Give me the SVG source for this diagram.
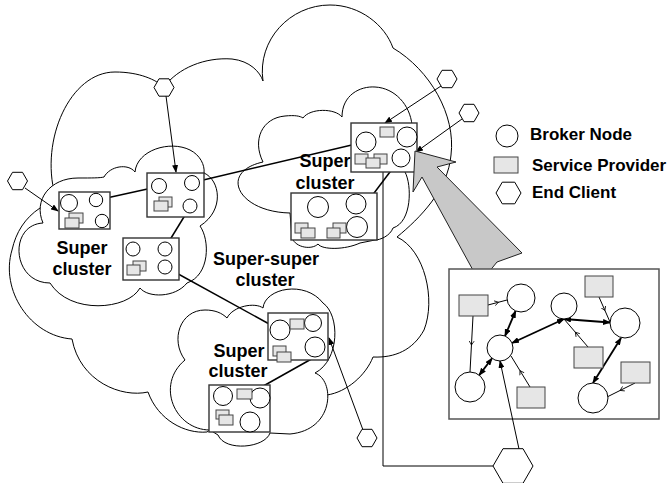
<svg xmlns="http://www.w3.org/2000/svg" width="669" height="483" viewBox="0 0 669 483">
  <defs>
    <marker id="tip" markerWidth="8" markerHeight="6" refX="7" refY="3" orient="auto" markerUnits="userSpaceOnUse">
      <path d="M0,0 L8,3 L0,6 Z" fill="#000"/>
    </marker>
    <marker id="tipStart" markerWidth="8" markerHeight="6" refX="1" refY="3" orient="auto" markerUnits="userSpaceOnUse">
      <path d="M8,0 L0,3 L8,6 Z" fill="#000"/>
    </marker>
    <marker id="midTick" markerWidth="6" markerHeight="6" refX="3" refY="3" orient="auto" markerUnits="userSpaceOnUse">
      <path d="M0,0.5 L4,3 L0,5.5" fill="none" stroke="#000" stroke-width="0.8"/>
    </marker>
  </defs>
  <style>
    .cloud { fill: #fff; stroke: #000; stroke-width: 1; }
    .box { fill: #fff; stroke: #333; stroke-width: 1.4; }
    .broker { fill: #fff; stroke: #000; stroke-width: 1; }
    .sp { fill: #e6e6e6; stroke: #444; stroke-width: 1; }
    .hex { fill: #fff; stroke: #000; stroke-width: 1; }
    .link { stroke: #000; stroke-width: 1.5; fill: none; }
    .thin { stroke: #000; stroke-width: 1; fill: none; }
    .thick { stroke: #000; stroke-width: 1.8; fill: none; }
    .label { font-family: "Liberation Sans", Arial, sans-serif; font-weight: bold; font-size: 18px; fill: #000; }
    .legend { font-family: "Liberation Sans", Arial, sans-serif; font-weight: bold; font-size: 17px; fill: #000; }
  </style>

  <!-- super-super cluster cloud -->
  <g id="cloud-supersuper">
    <path class="cloud" d="M55,195 C40,140 70,72 115,72 C140,72 156,80 164,87 C178,68 205,57 232,59 C250,61 260,72 263,81 C257,40 290,5 330,5 C360,5 385,25 393,48 C430,70 456,115 451,155 C448,190 420,218 397,237 C425,250 436,300 424,330 C413,350 395,358 373,357 C366,375 347,392 327,395 L230,415 L207,432 C185,434 158,420 148,392 C122,398 80,382 72,339 C30,336 0,290 12,250 C16,232 25,218 40,208 Z"/>
  </g>

  <!-- left super cluster cloud -->
  <g id="cloud-left">
    <path class="cloud" d="M43,223 C33,200 50,178 78,178 C92,178 100,178 104,177 C110,166 128,163 135,172 C137,150 170,140 190,150 C200,155 205,165 204,173 C220,180 225,210 200,226 C210,240 210,275 187,283 C175,298 148,298 140,288 C128,310 70,315 50,283 C12,283 8,225 43,223 Z"/>
    <text class="label" x="82" y="254" text-anchor="middle">Super</text>
    <text class="label" x="82" y="275" text-anchor="middle">cluster</text>
  </g>

  <!-- upper right super cluster cloud -->
  <g id="cloud-upper">
    <path class="cloud" d="M263,162 C252,140 262,118 285,116 C295,115 300,116 303,118 C310,108 335,108 342,117 C342,95 360,86 375,87 C395,88 410,105 412,125 L405,172 C412,185 412,222 393,228 C390,236 380,240 375,240 L360,243 C345,250 322,250 318,244 C312,250 296,248 292,238 L290,213 C238,212 218,172 263,162 Z"/>
    <text class="label" x="325" y="167" text-anchor="middle">Super</text>
    <text class="label" x="325" y="189" text-anchor="middle">cluster</text>
  </g>

  <!-- lower super cluster cloud -->
  <g id="cloud-lower">
    <path class="cloud" d="M185,360 C170,340 180,310 205,310 C215,310 222,313 227,318 C233,306 255,302 263,308 C265,288 305,280 323,303 C340,315 340,360 315,373 C335,380 335,430 290,434 L270,433 C265,448 225,452 218,435 L210,430 C175,430 155,385 185,360 Z"/>
    <text class="label" x="239" y="357" text-anchor="middle">Super</text>
    <text class="label" x="238" y="377" text-anchor="middle">cluster</text>
  </g>

  <text class="label" x="266" y="265" text-anchor="middle">Super-super</text>
  <text class="label" x="265" y="286" text-anchor="middle">cluster</text>

  <!-- connectors -->
  <g id="connectors">
    <line class="link" x1="102" y1="199" x2="152" y2="188"/>
    <line class="link" x1="199" y1="181" x2="356" y2="144"/>
    <line class="link" x1="187" y1="212" x2="168" y2="243"/>
    <line class="link" x1="171" y1="270" x2="271" y2="325"/>
    <line class="link" x1="396" y1="164" x2="365" y2="205"/>
    <line class="link" x1="315" y1="357" x2="258" y2="389"/>

    <line class="thin" x1="166" y1="96" x2="176" y2="172" marker-end="url(#tip)"/>
    <line class="thin" x1="25" y1="188" x2="58" y2="211" marker-end="url(#tip)"/>
    <line class="thin" x1="441" y1="86" x2="385" y2="123" marker-end="url(#tip)"/>
    <line class="thin" x1="462" y1="119" x2="416" y2="152" marker-end="url(#tip)"/>
    <line class="thin" x1="363" y1="430" x2="329" y2="338" marker-end="url(#tip)"/>
    <polyline class="thin" points="493,466 383,466 383,172"/>
  </g>

  <!-- super cluster boxes -->
  <g id="box-left-a">
    <rect class="box" x="59" y="192" width="51" height="37"/>
    <circle class="broker" cx="69" cy="203" r="8.5"/>
    <circle class="broker" cx="96" cy="200" r="6.7"/>
    <circle class="broker" cx="102" cy="221" r="6.7"/>
    <rect class="sp" x="69" y="213" width="14" height="10"/>
    <rect class="sp" x="65" y="218" width="14" height="10"/>
  </g>
  <g id="box-left-b">
    <rect class="box" x="147" y="173" width="57" height="44"/>
    <circle class="broker" cx="159" cy="186" r="7.5"/>
    <circle class="broker" cx="192" cy="183" r="7.5"/>
    <circle class="broker" cx="190" cy="206" r="7"/>
    <rect class="sp" x="159" y="197" width="13" height="10"/>
    <rect class="sp" x="154" y="201" width="14" height="10"/>
  </g>
  <g id="box-left-c">
    <rect class="box" x="123" y="238" width="56" height="42"/>
    <circle class="broker" cx="133" cy="249" r="7"/>
    <circle class="broker" cx="165" cy="249" r="7"/>
    <circle class="broker" cx="165" cy="267" r="7"/>
    <rect class="sp" x="133" y="261" width="13" height="10"/>
    <rect class="sp" x="127" y="265" width="13" height="10"/>
  </g>
  <g id="box-upper-a">
    <rect class="box" x="351" y="123" width="66" height="49"/>
    <circle class="broker" cx="366" cy="142" r="10"/>
    <circle class="broker" cx="407" cy="137" r="10"/>
    <circle class="broker" cx="401" cy="158" r="9"/>
    <rect class="sp" x="380" y="127" width="14" height="10"/>
    <rect class="sp" x="355" y="154" width="13" height="10"/>
    <rect class="sp" x="374" y="154" width="13" height="10"/>
    <rect class="sp" x="366" y="158" width="14" height="10"/>
  </g>
  <g id="box-upper-b">
    <rect class="box" x="291" y="193" width="86" height="47"/>
    <circle class="broker" cx="318" cy="207" r="10.5"/>
    <circle class="broker" cx="356" cy="204" r="10"/>
    <circle class="broker" cx="357" cy="227" r="10.5"/>
    <rect class="sp" x="295" y="223" width="13" height="10"/>
    <rect class="sp" x="301" y="228" width="14" height="10"/>
    <rect class="sp" x="333" y="223" width="13" height="10"/>
    <rect class="sp" x="327" y="228" width="13" height="10"/>
  </g>
  <g id="box-lower-a">
    <rect class="box" x="268" y="313" width="60" height="47"/>
    <circle class="broker" cx="280" cy="330" r="10"/>
    <circle class="broker" cx="313" cy="323" r="8.5"/>
    <circle class="broker" cx="315" cy="347" r="10"/>
    <rect class="sp" x="290" y="319" width="14" height="10"/>
    <rect class="sp" x="273" y="346" width="13" height="10"/>
    <rect class="sp" x="277" y="352" width="14" height="10"/>
  </g>
  <g id="box-lower-b">
    <rect class="box" x="209" y="385" width="61" height="47"/>
    <circle class="broker" cx="223" cy="396" r="9.5"/>
    <circle class="broker" cx="260" cy="398" r="10"/>
    <circle class="broker" cx="250" cy="422" r="10"/>
    <rect class="sp" x="237" y="389" width="15" height="10"/>
    <rect class="sp" x="216" y="410" width="13" height="9"/>
    <rect class="sp" x="219" y="415" width="14" height="10"/>
  </g>

  <!-- end clients -->
  <g id="client-1"><polygon class="hex" points="154,87.5 159,78.8 169,78.8 174,87.5 169,96.2 159,96.2"/></g>
  <g id="client-2"><polygon class="hex" points="7.5,181 12.5,172.3 22.5,172.3 27.5,181 22.5,189.7 12.5,189.7"/></g>
  <g id="client-3"><polygon class="hex" points="437,79 442,70.3 452,70.3 457,79 452,87.7 442,87.7"/></g>
  <g id="client-4"><polygon class="hex" points="459,113 464,104.3 474,104.3 479,113 474,121.7 464,121.7"/></g>
  <g id="client-5"><polygon class="hex" points="357,438 362,429.3 372,429.3 377,438 372,446.7 362,446.7"/></g>

  <!-- magnifying callout arrow -->
  <g id="zoom-arrow">
    <polygon points="415,151 456,162 437,167 522,253 497,262 480,283 422,177 413,192" fill="#c8c8c8" stroke="#222" stroke-width="1"/>
  </g>

  <!-- detailed view of one super cluster -->
  <g id="detail">
    <rect x="449" y="269" width="210" height="150" fill="#fff" stroke="#555" stroke-width="1.5"/>
    <g id="detail-links">
      <path class="thin" d="M488,305 L497.5,302.5 L507,300" marker-mid="url(#midTick)"/>
      <path class="thin" d="M473,316 L471.5,344 L470,372" marker-mid="url(#midTick)"/>
      <path class="thin" d="M588,347 L576,333 L564,319" marker-mid="url(#midTick)"/>
      <path class="thin" d="M530,387 L520.5,371.5 L511,356" marker-mid="url(#midTick)"/>
      <path class="thin" d="M599,297 L604.5,309.5 L610,322" marker-mid="url(#midTick)"/>
      <path class="thin" d="M635,383 L621,390 L607,397" marker-mid="url(#midTick)"/>
      <line class="thick" x1="515.6" y1="310.9" x2="505" y2="336" marker-start="url(#tipStart)" marker-end="url(#tip)"/>
      <line class="thick" x1="492.1" y1="358.3" x2="479.2" y2="375.1" marker-start="url(#tipStart)" marker-end="url(#tip)"/>
      <line class="thick" x1="512" y1="343" x2="564" y2="319" marker-start="url(#tipStart)" marker-end="url(#tip)"/>
      <line class="thick" x1="564" y1="319" x2="610" y2="322.5" marker-start="url(#tipStart)" marker-end="url(#tip)"/>
      <line class="thick" x1="621" y1="338" x2="593" y2="383" marker-start="url(#tipStart)" marker-end="url(#tip)"/>
      <line class="thin" x1="519" y1="449" x2="500" y2="361" marker-end="url(#tip)"/>
    </g>
    <g id="detail-nodes">
      <rect class="sp" x="459" y="295" width="29" height="21"/>
      <rect class="sp" x="585" y="276" width="28" height="21"/>
      <rect class="sp" x="574" y="347" width="29" height="21"/>
      <rect class="sp" x="621" y="362" width="29" height="21"/>
      <rect class="sp" x="517" y="387" width="28" height="21"/>
      <circle class="broker" cx="521" cy="298" r="14"/>
      <circle class="broker" cx="564" cy="306" r="13"/>
      <circle class="broker" cx="625" cy="323" r="15"/>
      <circle class="broker" cx="500" cy="348" r="13"/>
      <circle class="broker" cx="470" cy="387" r="15"/>
      <circle class="broker" cx="593" cy="398" r="15"/>
    </g>
  </g>
  <g id="client-6"><polygon class="hex" points="493,466 503,448.7 523,448.7 533,466 523,483.3 503,483.3"/></g>

  <!-- legend -->
  <g id="legend">
    <circle class="broker" cx="507" cy="136" r="11"/>
    <text class="legend" x="530" y="140">Broker Node</text>
    <rect class="sp" x="494" y="157" width="24" height="16"/>
    <text class="legend" x="532" y="171">Service Provider</text>
    <polygon class="hex" points="496,193 502.25,182.2 514.75,182.2 521,193 514.75,203.8 502.25,203.8"/>
    <text class="legend" x="532" y="198">End Client</text>
  </g>
</svg>
